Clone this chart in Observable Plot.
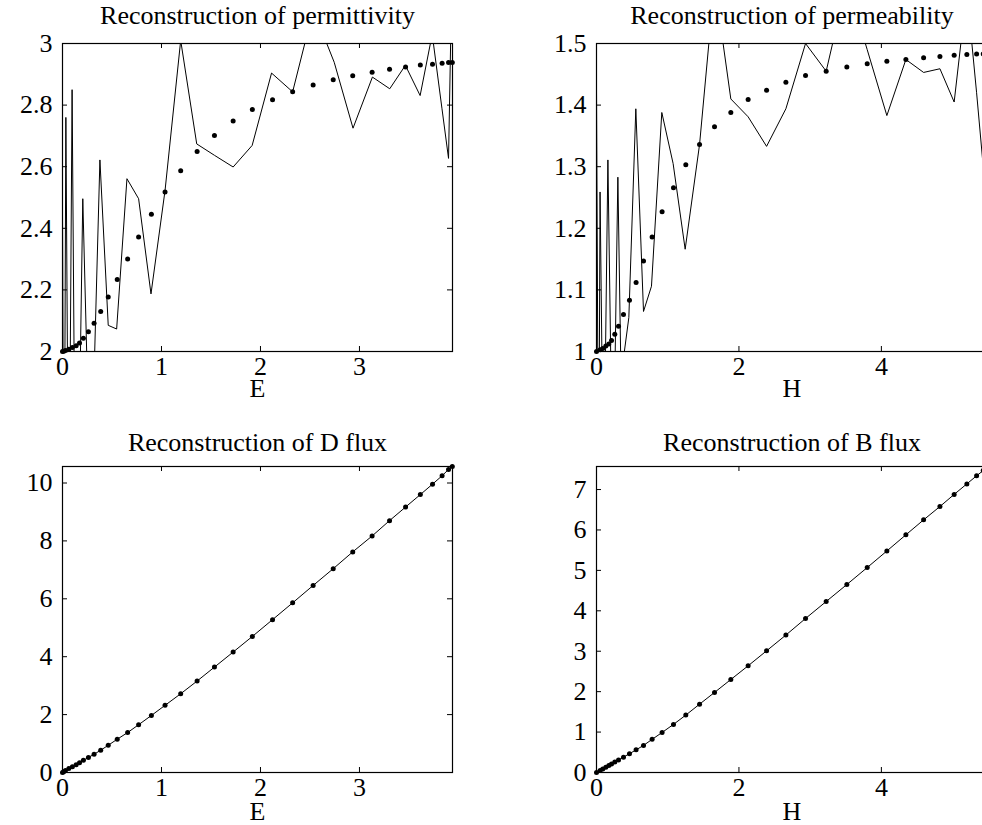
<!DOCTYPE html>
<html>
<head>
<meta charset="utf-8">
<script src="https://cdn.jsdelivr.net/npm/d3@7"></script>
<script src="https://cdn.jsdelivr.net/npm/@observablehq/plot@0.6"></script>
<style>
html, body { margin: 0; padding: 0; overflow: hidden; background: #fff; }
#wrap { position: relative; width: 982px; height: 825px; overflow: hidden; }
.panel { position: absolute; }
.panel svg { max-width: none !important; overflow: visible; }
.panel svg text { font-family: "Liberation Serif" !important; }
</style>
</head>
<body>
<div id="wrap"></div>
<script>
// ---------- data ----------
// E nodes (exact curves, dots)
const eNodes = [0, 0.012, 0.03, 0.064, 0.1, 0.138, 0.172, 0.211, 0.262, 0.319, 0.386, 0.462, 0.553, 0.658, 0.769, 0.898, 1.036, 1.194, 1.36, 1.535, 1.724, 1.918, 2.122, 2.325, 2.532, 2.735, 2.932, 3.128, 3.304, 3.466, 3.615, 3.738, 3.835, 3.9, 3.938];
const permExact = [2.0, 2.001, 2.003, 2.007, 2.013, 2.019, 2.028, 2.043, 2.064, 2.092, 2.130, 2.177, 2.234, 2.300, 2.372, 2.446, 2.518, 2.587, 2.649, 2.701, 2.748, 2.786, 2.817, 2.843, 2.865, 2.882, 2.895, 2.907, 2.916, 2.924, 2.930, 2.933, 2.936, 2.938, 2.938];
const dExact = [0, 0.025, 0.07, 0.14, 0.2, 0.27, 0.34, 0.42, 0.52, 0.63, 0.77, 0.94, 1.15, 1.38, 1.65, 1.97, 2.32, 2.72, 3.16, 3.64, 4.16, 4.70, 5.28, 5.86, 6.46, 7.04, 7.62, 8.17, 8.70, 9.17, 9.60, 9.96, 10.25, 10.47, 10.57];

// reconstructed permittivity (line)
const permLineE = [0, 0.015, 0.034, 0.064, 0.097, 0.14, 0.172, 0.205, 0.26, 0.317, 0.378, 0.462, 0.547, 0.651, 0.769, 0.894, 1.036, 1.194, 1.356, 1.535, 1.724, 1.916, 2.112, 2.325, 2.534, 2.745, 2.935, 3.131, 3.306, 3.464, 3.613, 3.735, 3.833, 3.90, 3.938];
const permLineV = [2.458, 1.2, 2.76, 1.3, 2.85, 1.0, 1.8, 2.496, 1.8, 1.9, 2.622, 2.085, 2.073, 2.561, 2.496, 2.187, 2.523, 3.01, 2.674, 2.637, 2.599, 2.669, 2.904, 2.843, 3.11, 2.939, 2.725, 2.891, 2.853, 2.929, 2.831, 3.03, 2.79, 2.627, 3.3];

// H nodes (exact curves, dots)
const hNodes = [0, 0.051, 0.088, 0.131, 0.173, 0.211, 0.257, 0.309, 0.379, 0.463, 0.556, 0.660, 0.781, 0.921, 1.081, 1.254, 1.447, 1.657, 1.886, 2.129, 2.388, 2.659, 2.935, 3.225, 3.515, 3.801, 4.077, 4.344, 4.593, 4.822, 5.022, 5.2, 5.337, 5.43, 5.48];
const permeabExact = [1.0, 1.003, 1.005, 1.009, 1.012, 1.018, 1.028, 1.041, 1.060, 1.083, 1.112, 1.147, 1.186, 1.227, 1.266, 1.303, 1.336, 1.365, 1.388, 1.409, 1.424, 1.437, 1.448, 1.455, 1.462, 1.467, 1.471, 1.474, 1.477, 1.479, 1.481, 1.482, 1.483, 1.483, 1.484];
const bExact = [0, 0.051, 0.088, 0.131, 0.173, 0.211, 0.257, 0.31, 0.38, 0.465, 0.56, 0.67, 0.82, 0.99, 1.19, 1.42, 1.69, 1.98, 2.30, 2.64, 3.01, 3.40, 3.81, 4.23, 4.65, 5.07, 5.48, 5.88, 6.25, 6.58, 6.88, 7.14, 7.34, 7.47, 7.55];

// reconstructed permeability (line)
const permeabLineH = [0, 0.03, 0.05, 0.1, 0.16, 0.23, 0.30, 0.345, 0.38, 0.454, 0.552, 0.66, 0.772, 0.917, 1.076, 1.245, 1.447, 1.657, 1.886, 2.129, 2.388, 2.659, 2.935, 3.225, 3.515, 3.801, 4.077, 4.344, 4.593, 4.822, 5.022, 5.2, 5.337, 5.43, 5.48];
const permeabLineV = [1.427, 0.7, 1.259, 0.75, 1.311, 0.75, 1.283, 0.95, 0.99, 1.055, 1.394, 1.065, 1.106, 1.388, 1.305, 1.166, 1.336, 1.60, 1.410, 1.381, 1.333, 1.394, 1.50, 1.455, 1.60, 1.49, 1.383, 1.474, 1.453, 1.459, 1.405, 1.585, 1.42, 1.30, 1.35];

// ticks
const eTicks = [0, 1, 2, 3];
const hTicks = [0, 2, 4];
const permTicks = [2, 2.2, 2.4, 2.6, 2.8, 3];
const permeabTicks = [1, 1.1, 1.2, 1.3, 1.4, 1.5];
const dTicks = [0, 2, 4, 6, 8, 10];
const bTicks = [0, 1, 2, 3, 4, 5, 6, 7];

const titles = ["Reconstruction of permittivity", "Reconstruction of permeability", "Reconstruction of D flux", "Reconstruction of B flux"];

// ---------- drawing ----------
const FONT = "Liberation Serif";
const fmt = d => String(+d.toFixed(1));

function panel(cfg) {
  const {left, top, width, height, mL, mR, mT, mB, xDomain, yDomain, xTicks, yTicks,
         title, titleDy, xLabel, xLabelDy, lineX, lineY, dotX, dotY} = cfg;
  const pw = width - mL - mR, ph = height - mT - mB;
  const lineData = lineX.map((x, i) => ({x, y: lineY[i]}));
  const dotData = dotX.map((x, i) => ({x, y: dotY[i]}));
  const tick = 5;
  const chart = Plot.plot({
    width, height,
    marginLeft: mL, marginRight: mR, marginTop: mT, marginBottom: mB,
    style: {fontFamily: FONT, fontSize: "26px", color: "black", background: "transparent", overflow: "visible"},
    x: {domain: xDomain},
    y: {domain: yDomain},
    marks: [
      Plot.line(lineData, {x: "x", y: "y", stroke: "black", strokeWidth: 1, clip: true}),
      Plot.dot(dotData, {x: "x", y: "y", r: 2.5, fill: "black", stroke: "none"}),
      Plot.tickX(xTicks, {x: d => d, insetTop: ph - tick, stroke: "black"}),
      Plot.tickX(xTicks, {x: d => d, insetBottom: ph - tick, stroke: "black"}),
      Plot.tickY(yTicks, {y: d => d, insetRight: pw - tick, stroke: "black"}),
      Plot.tickY(yTicks, {y: d => d, insetLeft: pw - tick, stroke: "black"}),
      Plot.frame({stroke: "black", strokeWidth: 1.2}),
      Plot.axisX(xTicks, {anchor: "bottom", tickSize: 0, tickPadding: 5, label: null, tickFormat: fmt, fontSize: 26}),
      Plot.axisY(yTicks, {anchor: "left", tickSize: 0, tickPadding: 10, label: null, tickFormat: fmt, fontSize: 26}),
      Plot.text([title], {frameAnchor: "top", lineAnchor: "top", dy: titleDy, text: d => d, fontSize: 26, fill: "black"}),
      Plot.text([xLabel], {frameAnchor: "bottom", lineAnchor: "top", dy: xLabelDy, text: d => d, fontSize: 26, fill: "black"})
    ]
  });
  const div = document.createElement("div");
  div.className = "panel";
  div.style.left = left + "px";
  div.style.top = top + "px";
  div.style.width = width + "px";
  div.style.height = height + "px";
  div.appendChild(chart);
  document.getElementById("wrap").appendChild(div);
}

panel({left: 0, top: 0, width: 470, height: 410, mL: 62, mR: 18, mT: 43, mB: 59,
  xDomain: [0, 3.94], yDomain: [2, 3], xTicks: eTicks, yTicks: permTicks,
  title: titles[0], titleDy: -37.5, xLabel: "E", xLabelDy: 27,
  lineX: permLineE, lineY: permLineV, dotX: eNodes, dotY: permExact});

panel({left: 530, top: 0, width: 470, height: 410, mL: 66, mR: 13, mT: 43, mB: 59,
  xDomain: [0, 5.49], yDomain: [1, 1.5], xTicks: hTicks, yTicks: permeabTicks,
  title: titles[1], titleDy: -37.5, xLabel: "H", xLabelDy: 27,
  lineX: permeabLineH, lineY: permeabLineV, dotX: hNodes, dotY: permeabExact});

panel({left: 0, top: 410, width: 470, height: 415, mL: 62, mR: 18, mT: 56, mB: 53,
  xDomain: [0, 3.94], yDomain: [0, 10.57], xTicks: eTicks, yTicks: dTicks,
  title: titles[2], titleDy: -34, xLabel: "E", xLabelDy: 29,
  lineX: eNodes, lineY: dExact, dotX: eNodes, dotY: dExact});

panel({left: 530, top: 410, width: 470, height: 415, mL: 66, mR: 13, mT: 56, mB: 53,
  xDomain: [0, 5.49], yDomain: [0, 7.57], xTicks: hTicks, yTicks: bTicks,
  title: titles[3], titleDy: -34, xLabel: "H", xLabelDy: 29,
  lineX: hNodes, lineY: bExact, dotX: hNodes, dotY: bExact});
</script>
</body>
</html>
